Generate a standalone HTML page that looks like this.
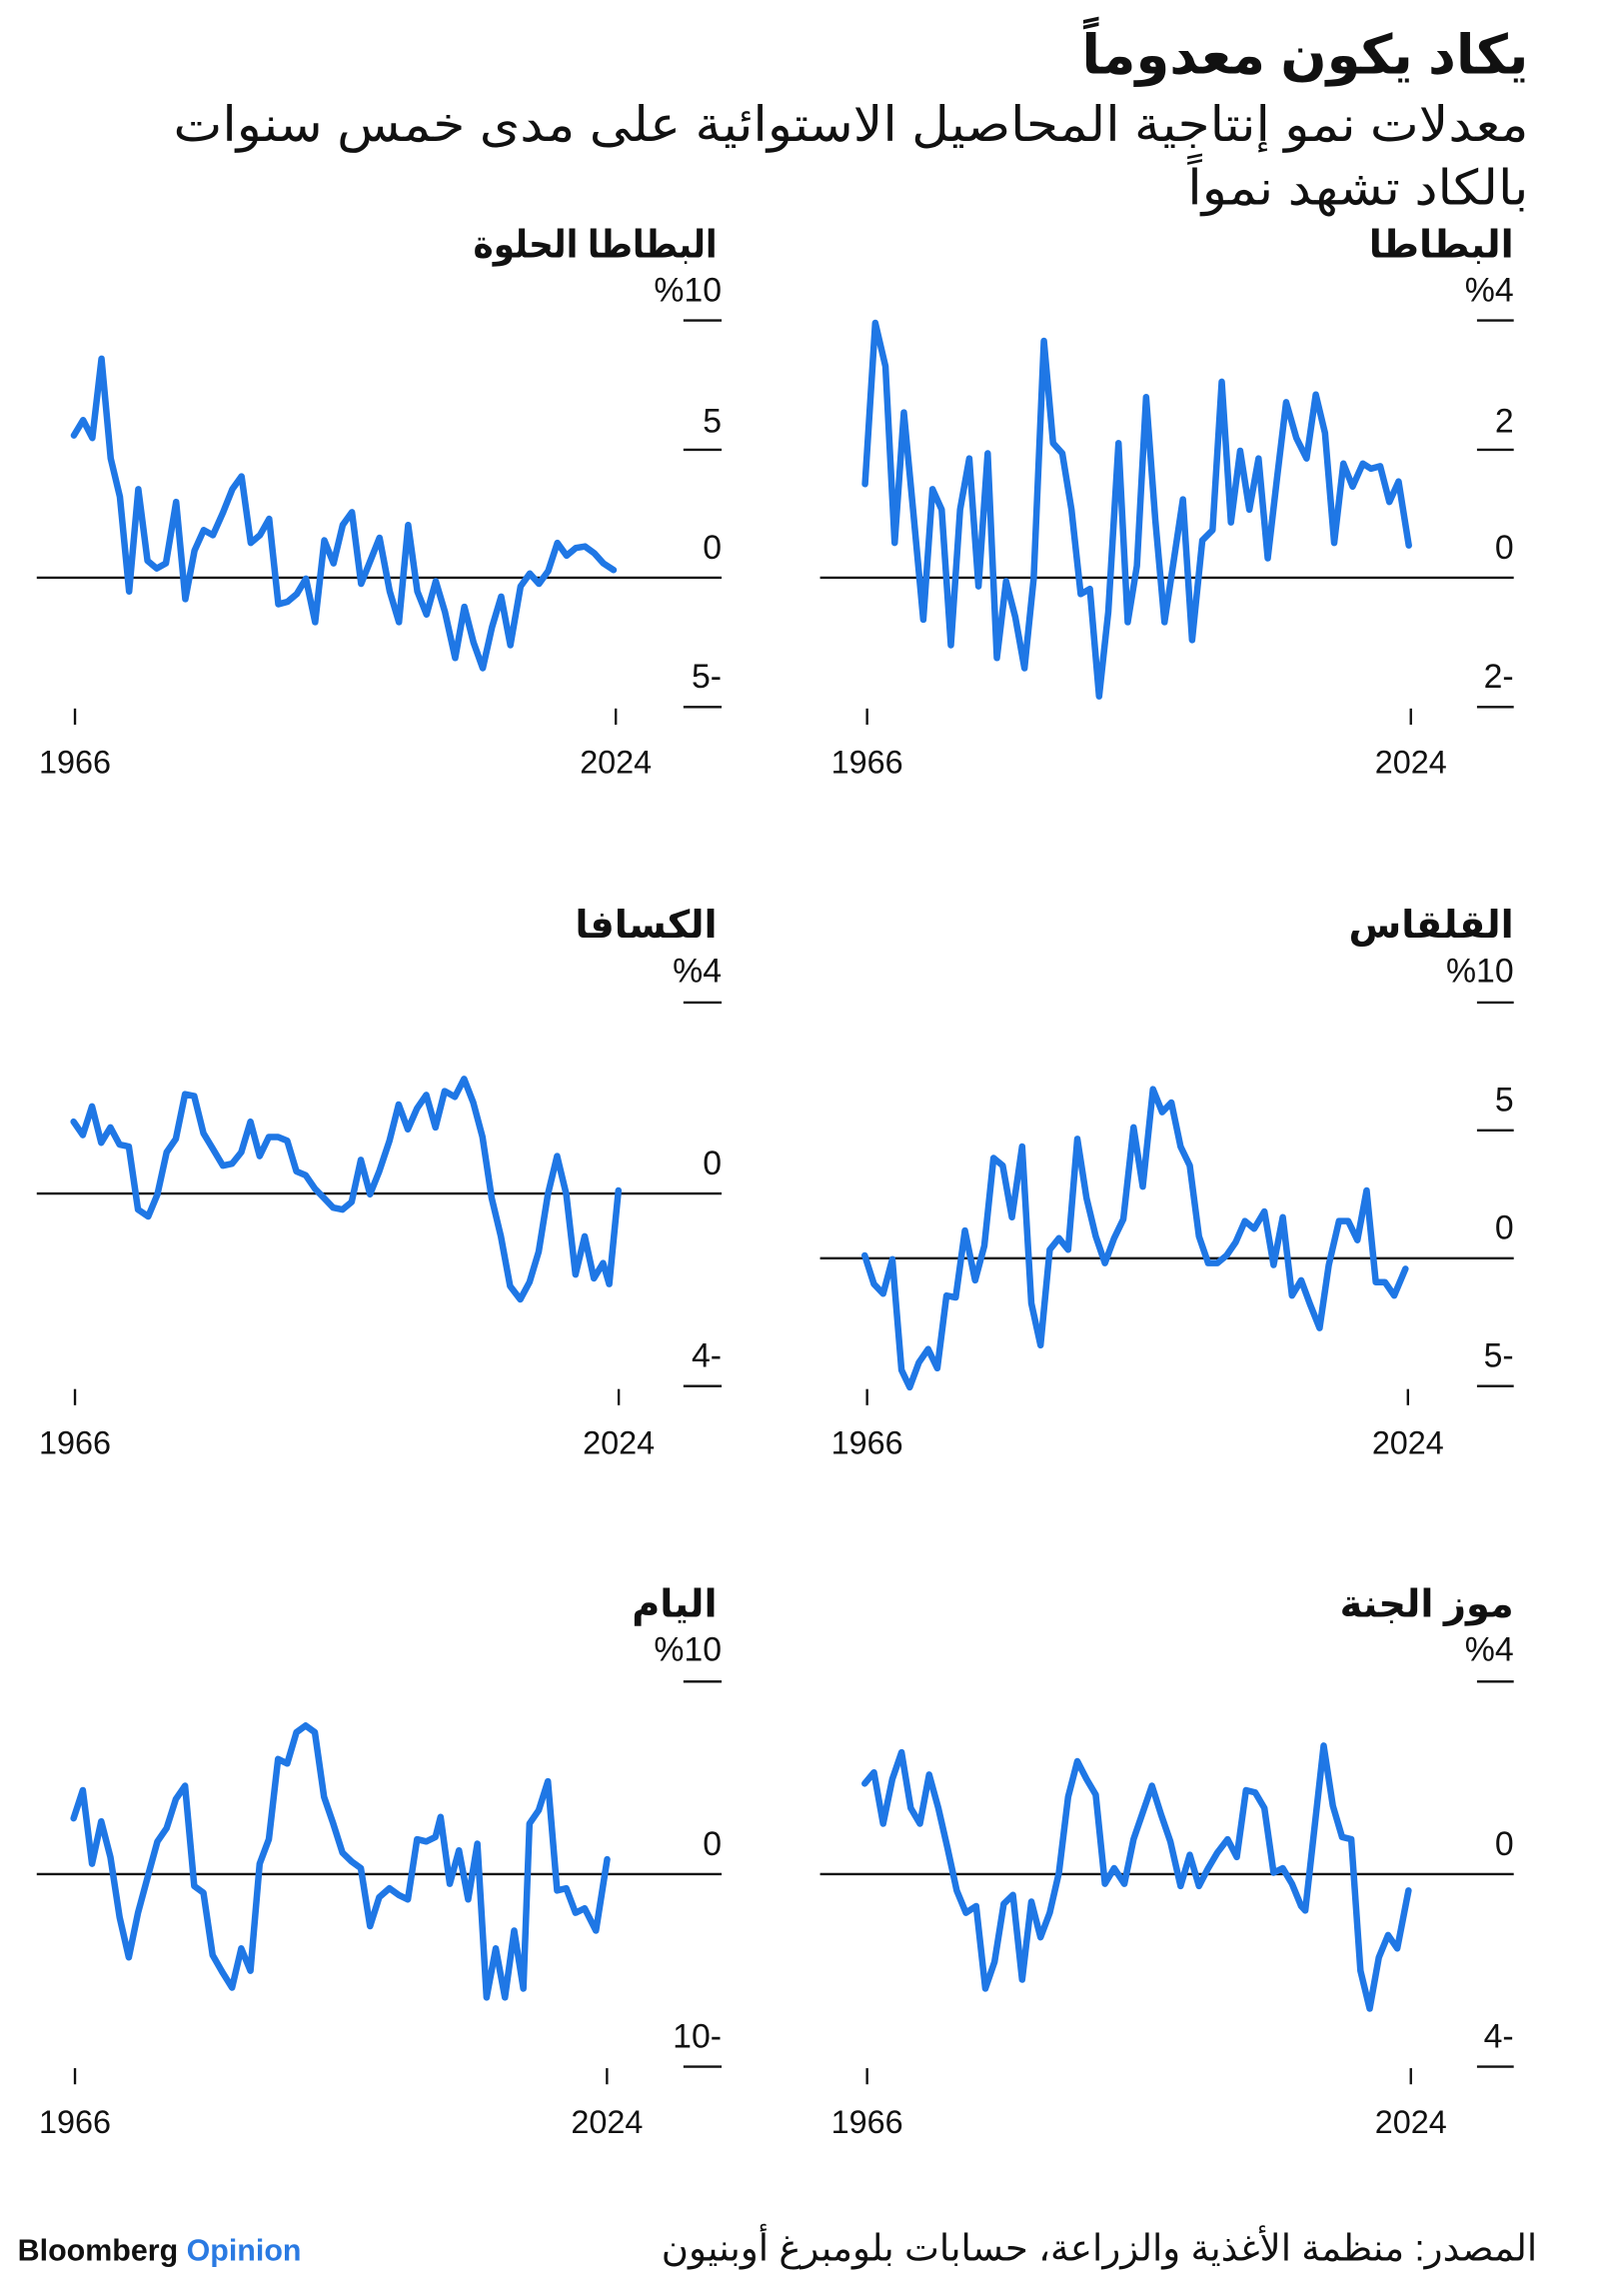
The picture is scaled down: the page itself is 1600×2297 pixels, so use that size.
<!DOCTYPE html>
<html><head><meta charset="utf-8"><style>
html,body{margin:0;padding:0;background:#fff;}
svg{display:block;}
text{font-family:"Liberation Sans","DejaVu Sans",sans-serif;fill:#111;}
.t{font-weight:bold;}
.ln{fill:none;stroke:#1f77e5;stroke-width:6.5;stroke-linejoin:round;stroke-linecap:round;}
.ax{stroke:#111;stroke-width:1.6;}
.lb{font-size:23px;text-anchor:end;}
.yr{font-size:22px;text-anchor:middle;}
.pt{font-size:26px;font-weight:bold;text-anchor:end;}
</style></head><body>
<svg width="1600" height="2297" viewBox="0 0 1088 1562" xmlns="http://www.w3.org/2000/svg">
<rect width="1088" height="1562" fill="#fff"/>
<text x="1040" y="50" class="t" font-size="37" text-anchor="end">يكاد يكون معدوماً</text>
<text x="1040" y="96" font-size="33" text-anchor="end" textLength="922" lengthAdjust="spacingAndGlyphs">معدلات نمو إنتاجية المحاصيل الاستوائية على مدى خمس سنوات</text>
<text x="1040" y="139" font-size="33" text-anchor="end" textLength="232" lengthAdjust="spacingAndGlyphs">بالكاد تشهد نمواً</text>

<!-- Row 1 -->
<text x="1030" y="175" class="pt">البطاطا</text>
<text x="488" y="175" class="pt" textLength="166" lengthAdjust="spacingAndGlyphs">البطاطا الحلوة</text>
<g class="ax">
<line x1="558" y1="393" x2="1030" y2="393"/><line x1="25" y1="393" x2="491" y2="393"/>
<line x1="1005" y1="218" x2="1030" y2="218"/><line x1="1005" y1="306" x2="1030" y2="306"/><line x1="1005" y1="481" x2="1030" y2="481"/>
<line x1="465" y1="218" x2="491" y2="218"/><line x1="465" y1="306" x2="491" y2="306"/><line x1="465" y1="481" x2="491" y2="481"/>
<line x1="590" y1="482" x2="590" y2="493"/><line x1="960" y1="482" x2="960" y2="493"/>
<line x1="51" y1="482" x2="51" y2="493"/><line x1="419" y1="482" x2="419" y2="493"/>
</g>
<text x="1030" y="205" class="lb">%4</text><text x="1030" y="294" class="lb">2</text><text x="1030" y="380" class="lb">0</text><text x="1030" y="468" class="lb">2-</text>
<text x="491" y="205" class="lb">%10</text><text x="491" y="294" class="lb">5</text><text x="491" y="380" class="lb">0</text><text x="491" y="468" class="lb">5-</text>
<text x="590" y="526" class="yr">1966</text><text x="960" y="526" class="yr">2024</text>
<text x="51" y="526" class="yr">1966</text><text x="419" y="526" class="yr">2024</text>
<g transform="matrix(0.6955 0 0 0.348 0.2 -1.3)">
<polyline class="ln" vector-effect="non-scaling-stroke" points="846,950 856,635 866,720 875,1065 884,810 893,1000 903,1215 912,960 921,1000 930,1265 939,1000 948,900 957,1150 966,890 975,1290 984,1140 993,1210 1002,1310 1011,1135 1021,670 1030,870 1039,890 1048,1000 1057,1165 1066,1155 1075,1365 1084,1200 1094,870 1103,1220 1112,1110 1121,780 1130,1020 1139,1220 1148,1100 1157,980 1166,1255 1176,1060 1186,1040 1195,750 1204,1025 1213,885 1222,1000 1231,900 1240,1095 1249,940 1258,790 1268,860 1278,900 1287,775 1296,850 1305,1065 1314,910 1323,955 1333,910 1341,920 1350,915 1359,985 1368,945 1378,1070"/>
<polyline class="ln" vector-effect="non-scaling-stroke" points="72,855 81,825 90,860 99,705 108,900 117,975 126,1160 135,960 144,1100 153,1115 162,1105 172,985 181,1175 190,1080 199,1040 208,1050 218,1005 227,960 236,935 245,1065 254,1050 263,1018 272,1185 281,1180 290,1165 299,1135 308,1220 317,1060 326,1105 335,1030 344,1005 353,1145 362,1100 371,1055 381,1160 390,1220 399,1030 408,1160 417,1205 426,1140 435,1200 445,1290 454,1190 463,1260 472,1310 481,1230 490,1170 499,1265 509,1150 518,1125 527,1145 536,1120 545,1065 554,1090 563,1075 572,1072 581,1085 590,1105 600,1118"/>
</g>

<!-- Row 2 -->
<text x="1030" y="638" class="pt">القلقاس</text>
<text x="488" y="638" class="pt">الكسافا</text>
<g class="ax">
<line x1="558" y1="856" x2="1030" y2="856"/><line x1="25" y1="812" x2="491" y2="812"/>
<line x1="1005" y1="682" x2="1030" y2="682"/><line x1="1005" y1="769" x2="1030" y2="769"/><line x1="1005" y1="943" x2="1030" y2="943"/>
<line x1="465" y1="682" x2="491" y2="682"/><line x1="465" y1="943" x2="491" y2="943"/>
<line x1="590" y1="945" x2="590" y2="956"/><line x1="958" y1="945" x2="958" y2="956"/>
<line x1="51" y1="945" x2="51" y2="956"/><line x1="421" y1="945" x2="421" y2="956"/>
</g>
<text x="1030" y="668" class="lb">%10</text><text x="1030" y="756" class="lb">5</text><text x="1030" y="843" class="lb">0</text><text x="1030" y="930" class="lb">5-</text>
<text x="491" y="668" class="lb">%4</text><text x="491" y="799" class="lb">0</text><text x="491" y="930" class="lb">4-</text>
<text x="590" y="989" class="yr">1966</text><text x="958" y="989" class="yr">2024</text>
<text x="51" y="989" class="yr">1966</text><text x="421" y="989" class="yr">2024</text>
<g transform="matrix(0.6955 0 0 0.26 0 614.9)">
<polyline class="ln" vector-effect="non-scaling-stroke" points="72,570 81,605 90,530 99,625 108,585 117,630 126,635 135,800 145,818 154,760 163,650 172,615 181,498 190,503 199,600 208,640 218,685 227,680 236,650 245,570 254,660 263,610 272,610 281,620 290,700 299,710 308,745 317,770 326,795 335,800 344,780 353,670 362,760 371,700 381,620 390,525 399,590 408,535 417,500 426,585 435,490 445,505 454,458 463,520 472,610 481,770 490,870 499,1000 509,1035 518,990 527,910 536,760 545,660 554,760 563,970 572,870 581,980 590,940 596,995 605,750"/>
<polyline class="ln" vector-effect="non-scaling-stroke" points="846,920 855,995 864,1020 873,930 882,1220 890,1265 899,1200 908,1165 917,1215 926,1025 935,1030 944,855 954,985 963,895 972,665 981,685 990,820 1000,635 1009,1045 1018,1155 1027,905 1036,875 1045,905 1054,615 1063,770 1072,870 1081,940 1090,875 1099,825 1109,585 1118,740 1128,485 1137,545 1146,520 1155,635 1164,685 1173,870 1182,940 1191,940 1200,920 1209,885 1218,830 1227,850 1237,805 1246,945 1255,820 1264,1025 1273,985 1282,1050 1291,1110 1300,945 1310,830 1319,830 1328,880 1337,750 1346,990 1355,990 1364,1025 1375,955"/>
</g>

<!-- Row 3 -->
<text x="1030" y="1100" class="pt">موز الجنة</text>
<text x="488" y="1100" class="pt">اليام</text>
<g class="ax">
<line x1="558" y1="1275" x2="1030" y2="1275"/><line x1="25" y1="1275" x2="491" y2="1275"/>
<line x1="1005" y1="1144" x2="1030" y2="1144"/><line x1="1005" y1="1406" x2="1030" y2="1406"/>
<line x1="465" y1="1144" x2="491" y2="1144"/><line x1="465" y1="1406" x2="491" y2="1406"/>
<line x1="590" y1="1407" x2="590" y2="1418"/><line x1="960" y1="1407" x2="960" y2="1418"/>
<line x1="51" y1="1407" x2="51" y2="1418"/><line x1="413" y1="1407" x2="413" y2="1418"/>
</g>
<text x="1030" y="1130" class="lb">%4</text><text x="1030" y="1262" class="lb">0</text><text x="1030" y="1393" class="lb">4-</text>
<text x="491" y="1130" class="lb">%10</text><text x="491" y="1262" class="lb">0</text><text x="491" y="1393" class="lb">10-</text>
<text x="590" y="1451" class="yr">1966</text><text x="960" y="1451" class="yr">2024</text>
<text x="51" y="1451" class="yr">1966</text><text x="413" y="1451" class="yr">2024</text>
<g transform="matrix(0.6955 0 0 0.3032 0 1092.1)">
<polyline class="ln" vector-effect="non-scaling-stroke" points="72,478 81,415 90,580 99,485 108,565 117,700 126,790 135,690 145,605 154,530 163,500 172,435 181,405 190,630 199,645 208,785 218,825 227,858 236,770 245,820 254,580 263,525 272,345 281,355 290,285 299,270 308,285 317,430 326,490 335,555 344,575 353,590 362,720 371,655 381,635 390,650 399,660 408,525 417,530 426,520 431,475 440,625 449,550 458,660 467,535 476,880 485,770 494,880 503,730 512,860 518,490 527,460 536,395 545,640 554,635 563,690 572,680 583,730 594,570"/>
<polyline class="ln" vector-effect="non-scaling-stroke" points="846,400 855,375 864,490 873,390 882,330 891,455 900,490 909,380 918,455 927,545 936,640 945,690 955,675 964,860 973,800 982,670 991,650 1000,840 1009,665 1018,745 1027,690 1036,600 1045,430 1054,350 1063,390 1072,425 1081,625 1090,590 1100,625 1109,525 1118,465 1127,405 1136,470 1145,530 1155,630 1164,560 1173,630 1182,590 1191,555 1201,525 1210,565 1219,415 1228,420 1237,455 1246,600 1255,590 1264,625 1273,675 1277,685 1286,500 1295,315 1304,450 1313,520 1322,525 1331,820 1340,905 1349,790 1358,740 1367,770 1378,640"/>
</g>

<!-- Footer -->
<text x="1046" y="1538" font-size="25" text-anchor="end" textLength="596" lengthAdjust="spacingAndGlyphs">المصدر: منظمة الأغذية والزراعة، حسابات بلومبرغ أوبنيون</text>
<text x="12" y="1538" font-size="21" font-weight="bold" textLength="193" lengthAdjust="spacingAndGlyphs">Bloomberg <tspan fill="#2a7ae2">Opinion</tspan></text>
</svg>
</body></html>
